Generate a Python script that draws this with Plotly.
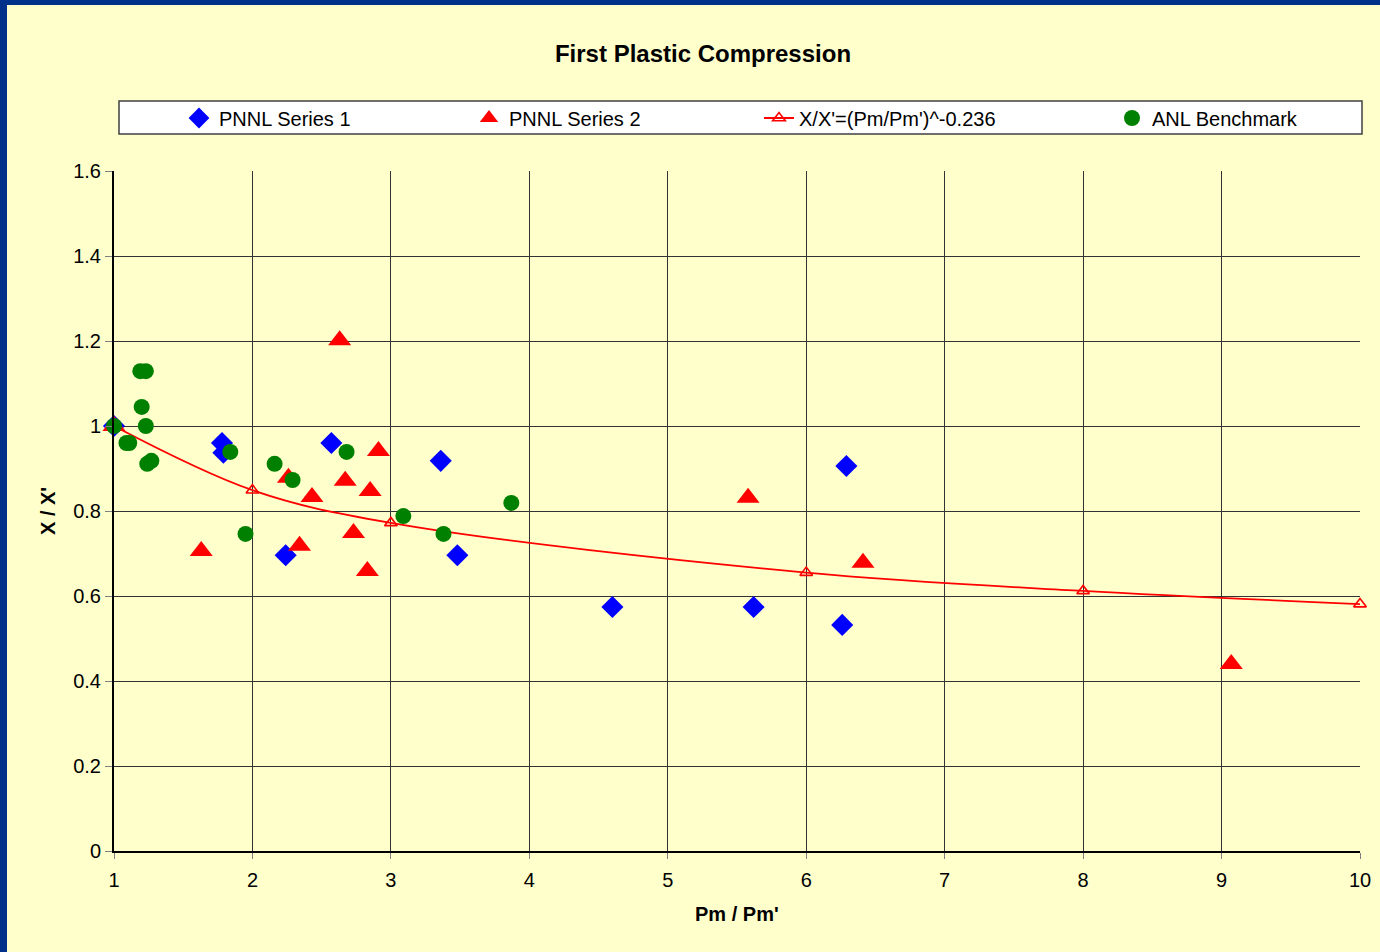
import plotly.graph_objects as go

# Data
s1_x = [1.00, 1.78, 1.79, 2.24, 2.57, 3.36, 3.48, 4.60, 5.62, 6.29, 6.26]
s1_y = [1.000, 0.960, 0.937, 0.696, 0.960, 0.918, 0.696, 0.574, 0.574, 0.906, 0.532]

s2_x = [1.00, 1.63, 2.26, 2.34, 2.43, 2.63, 2.67, 2.73, 2.83, 2.85, 2.91, 5.58, 6.41, 9.07]
s2_y = [1.000, 0.706, 0.878, 0.718, 0.833, 1.202, 0.871, 0.748, 0.659, 0.847, 0.941, 0.831, 0.678, 0.440]

fit_x = [1, 2, 3, 6, 8, 10]
fit_y = [1.000, 0.849, 0.772, 0.655, 0.612, 0.581]

anl_x = [1.00, 1.09, 1.11, 1.19, 1.23, 1.20, 1.23, 1.24, 1.27, 1.84, 1.95, 2.16, 2.29, 2.68, 3.09, 3.38, 3.87]
anl_y = [1.000, 0.960, 0.960, 1.129, 1.129, 1.045, 1.000, 0.911, 0.918, 0.939, 0.746, 0.911, 0.873, 0.939, 0.788, 0.746, 0.819]

x_ticks = list(range(1, 11))
y_ticks = [0, 0.2, 0.4, 0.6, 0.8, 1, 1.2, 1.4, 1.6]

# Page geometry (pixels)
W, H = 1380, 952
L, R, T, B = 114, 1360, 171, 851
YELLOW = '#FFFFCC'
NAVY = '#00318a'
FONT = 'Arial, Liberation Sans, sans-serif'


def px_x(p):
    return (p - L) / (R - L)


def px_y(p):
    return (B - p) / (B - T)


fig = go.Figure()

fig.add_trace(go.Scatter(x=fit_x, y=fit_y, mode='lines+markers', name="X/X'=(Pm/Pm')^-0.236",
                         line=dict(color='#FF0000', width=1.8, shape='spline', smoothing=1.0),
                         marker=dict(symbol='triangle-up-open', size=11, color='#FF0000',
                                     line=dict(width=1.6)),
                         legend='legend3', cliponaxis=False))
fig.add_trace(go.Scatter(x=s1_x, y=s1_y, mode='markers', name='PNNL Series 1',
                         marker=dict(symbol='diamond', size=17, color='#0000FF'),
                         legend='legend', cliponaxis=False))
fig.add_trace(go.Scatter(x=s2_x, y=s2_y, mode='markers', name='PNNL Series 2',
                         marker=dict(symbol='triangle-up', size=20, color='#FF0000'),
                         legend='legend2', cliponaxis=False))
fig.add_trace(go.Scatter(x=anl_x, y=anl_y, mode='markers', name='ANL Benchmark',
                         marker=dict(symbol='circle', size=16, color='#008000'),
                         legend='legend4', cliponaxis=False))


def leg(marker_px):
    return dict(x=px_x(marker_px - 18), xanchor='left', y=px_y(118), yanchor='middle',
                bgcolor='rgba(0,0,0,0)', borderwidth=0,
                font=dict(family=FONT, size=20, color='black'))


fig.update_layout(
    width=W, height=H,
    margin=dict(l=L, r=W - R, t=T, b=H - B),
    paper_bgcolor=YELLOW, plot_bgcolor=YELLOW,
    font=dict(family=FONT, size=20, color='black'),
    title=dict(text='<b>First Plastic Compression</b>', x=703 / W, xanchor='center',
               y=1 - 54 / H, yanchor='middle', font=dict(size=24)),
    showlegend=True,
    # last legend sits a few px left so its box does not push the right margin
    legend=leg(197), legend2=leg(487), legend3=leg(777), legend4=leg(1130),
    xaxis=dict(range=[1, 10], tickvals=x_ticks, showgrid=True, gridcolor='#333333', gridwidth=1,
               zeroline=False, showline=True, linecolor='black', linewidth=2, automargin=False,
               ticks='outside', ticklen=6, tickcolor='#808080', tickfont=dict(size=20),
               ticklabelstandoff=4),
    yaxis=dict(range=[0, 1.6], tickvals=y_ticks, showgrid=True, gridcolor='#333333', gridwidth=1,
               zeroline=False, showline=True, linecolor='black', linewidth=2, automargin=False,
               ticks='outside', ticklen=7, tickcolor='#808080', tickfont=dict(size=20)),
    shapes=[
        # outer navy frame strips
        dict(type='rect', xref='paper', yref='paper', x0=px_x(0), x1=px_x(7), y0=px_y(H), y1=px_y(0),
             fillcolor=NAVY, line=dict(width=0), layer='below'),
        dict(type='rect', xref='paper', yref='paper', x0=px_x(0), x1=px_x(W), y0=px_y(5), y1=px_y(0),
             fillcolor=NAVY, line=dict(width=0), layer='below'),
        # legend box
        dict(type='rect', xref='paper', yref='paper', x0=px_x(119), x1=px_x(1362),
             y0=px_y(134), y1=px_y(101), fillcolor='white', line=dict(color='#404040', width=1.5),
             layer='below'),
    ],
    annotations=[
        dict(text="<b>Pm / Pm'</b>", xref='paper', yref='paper', x=px_x(737), y=px_y(914),
             xanchor='center', yanchor='middle', showarrow=False, font=dict(size=20)),
        dict(text="<b>X / X'</b>", xref='paper', yref='paper', x=px_x(48), y=px_y(511),
             xanchor='center', yanchor='middle', showarrow=False, textangle=-90, font=dict(size=20)),
    ],
)

fig.write_html("out.html", config={'displayModeBar': False},
               post_script="document.body.style.margin='0';")
